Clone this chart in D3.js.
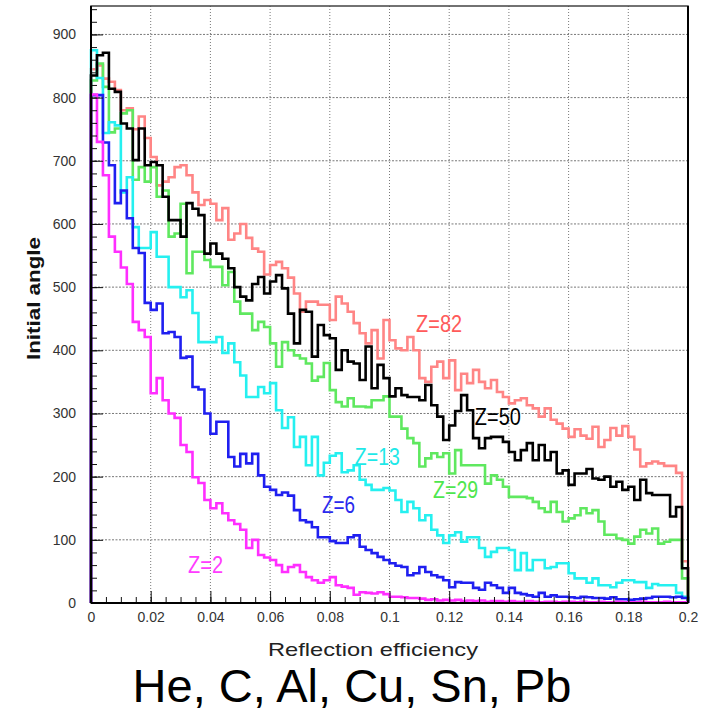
<!DOCTYPE html>
<html>
<head>
<meta charset="utf-8">
<script src="https://cdn.jsdelivr.net/npm/d3@7/dist/d3.min.js"></script>
<style>
  body { margin: 0; background: #fff; }
  text { font-family: "Liberation Sans", Arial, sans-serif; }
</style>
</head>
<body>
<div id="chart"></div>
<script>
// histogram range: 100 bins from 0 to 0.2
const xMin = 0, xMax = 0.2, nBins = 100;

// counts per bin
const z82 = [845, 851, 830, 825, 812, 780, 783, 750, 770, 736,
             706, 661, 667, 674, 690, 693, 677, 650, 630, 638,
             632, 606, 625, 575, 585, 600, 578, 561, 556, 520,
             535, 540, 530, 515, 490, 461, 477, 477, 472, 472,
             448, 485, 474, 461, 443, 427, 411, 432, 387, 448,
             416, 403, 400, 421, 400, 356, 350, 374, 382, 356,
             384, 337, 363, 348, 369, 350, 340, 353, 334, 326,
             316, 321, 324, 313, 308, 295, 308, 290, 284, 276,
             263, 275, 265, 260, 279, 247, 258, 277, 265, 280,
             263, 243, 216, 221, 224, 221, 217, 217, 206, 66];

const z50 = [835, 867, 871, 814, 809, 759, 751, 701, 751, 693,
             698, 693, 643, 606, 606, 580, 633, 624, 614, 553,
             569, 553, 545, 530, 500, 485, 479, 505, 516, 490,
             509, 519, 498, 458, 411, 464, 461, 390, 440, 424,
             419, 369, 400, 382, 379, 353, 406, 340, 377, 356,
             327, 340, 329, 326, 326, 321, 345, 313, 295, 258,
             281, 304, 329, 305, 261, 245, 261, 263, 263, 255,
             239, 226, 242, 253, 226, 250, 226, 239, 205, 210,
             187, 205, 205, 212, 197, 195, 200, 184, 192, 179,
             184, 163, 195, 174, 171, 171, 171, 137, 152, 55];

const z29 = [827, 854, 817, 745, 751, 775, 780, 670, 690, 667,
             690, 643, 653, 580, 585, 632, 522, 556, 556, 543,
             532, 532, 503, 524, 477, 458, 458, 432, 445, 437,
             411, 374, 413, 400, 392, 387, 379, 352, 358, 380,
             337, 318, 311, 324, 311, 311, 310, 321, 321, 327,
             295, 295, 276, 261, 253, 216, 229, 237, 231, 237,
             205, 242, 218, 218, 218, 218, 189, 202, 195, 184,
             168, 168, 168, 166, 160, 150, 144, 160, 144, 129,
             134, 139, 150, 142, 147, 129, 108, 108, 102, 100,
             94, 105, 116, 110, 118, 94, 97, 100, 100, 39];

const z13 = [875, 831, 744, 761, 756, 650, 674, 595, 562, 562,
             587, 548, 548, 500, 500, 484, 495, 459, 413, 413,
             413, 421, 396, 411, 381, 360, 326, 326, 342, 332,
             348, 305, 277, 294, 247, 263, 218, 263, 202, 222,
             233, 237, 207, 210, 218, 195, 187, 179, 179, 182,
             178, 163, 144, 160, 150, 131, 139, 116, 107, 95,
             107, 112, 97, 104, 104, 87, 73, 81, 87, 87,
             84, 52, 79, 52, 68, 68, 55, 57, 63, 63,
             47, 39, 39, 32, 39, 28, 28, 25, 32, 36,
             36, 33, 33, 24, 30, 28, 28, 28, 16, 10];

const z6 = [804, 804, 729, 693, 633, 653, 609, 562, 554, 475,
            464, 474, 427, 429, 421, 388, 390, 342, 338, 300,
            268, 287, 287, 231, 216, 236, 221, 236, 202, 184,
            179, 171, 175, 170, 147, 131, 128, 120, 104, 104,
            98, 95, 95, 104, 107, 89, 84, 79, 73, 68,
            63, 59, 57, 44, 47, 57, 49, 44, 41, 36,
            25, 33, 32, 32, 24, 21, 32, 28, 24, 16,
            24, 16, 14, 12, 10, 16, 10, 12, 10, 10,
            9, 8, 10, 9, 8, 8, 7, 9, 6, 6,
            5, 6, 7, 8, 10, 10, 10, 9, 10, 8];

const z2 = [805, 730, 677, 580, 556, 531, 505, 445, 432, 421,
            332, 356, 321, 300, 293, 250, 239, 199, 190, 163,
            150, 158, 142, 131, 125, 116, 87, 100, 76, 72,
            68, 60, 49, 57, 60, 49, 41, 36, 32, 36,
            41, 28, 26, 24, 13, 17, 16, 15, 17, 14,
            10, 10, 9, 8, 8, 7, 5, 6, 4, 5,
            4, 5, 3, 4, 3, 4, 2, 3, 3, 2,
            3, 2, 2, 3, 2, 1, 2, 2, 1, 2,
            2, 1, 2, 1, 1, 2, 1, 1, 2, 1,
            1, 1, 2, 1, 1, 1, 2, 1, 1, 1];

const yTicks = [0, 100, 200, 300, 400, 500, 600, 700, 800, 900];
const xTicks = [0, 0.02, 0.04, 0.06, 0.08, 0.1, 0.12, 0.14, 0.16, 0.18, 0.2];
const xTitle = "Reflection efficiency";
const yTitle = "Initial angle";
const caption = "He, C, Al, Cu, Sn, Pb";

const W = 704, H = 712;
const margin = { top: 6, left: 91 },
      width = 597,
      height = 597;

const svg = d3.select("#chart").append("svg")
    .attr("width", W)
    .attr("height", H);

const g = svg.append("g")
    .attr("transform", `translate(${margin.left},${margin.top})`);

const x = d3.scaleLinear().domain([xMin, xMax]).range([0, width]);
const y = d3.scaleLinear().domain([0, 945]).range([height, 0]);

// grid
g.append("g").selectAll("line")
    .data(yTicks.slice(1))
  .enter().append("line")
    .attr("x1", 0).attr("x2", width)
    .attr("y1", d => y(d)).attr("y2", d => y(d))
    .attr("stroke", "#555").attr("stroke-width", 0.8)
    .attr("stroke-dasharray", "2,1.5");

g.append("g").selectAll("line")
    .data(xTicks.slice(1, -1))
  .enter().append("line")
    .attr("x1", d => x(d)).attr("x2", d => x(d))
    .attr("y1", 0).attr("y2", height)
    .attr("stroke", "#555").attr("stroke-width", 0.8)
    .attr("stroke-dasharray", "1,2");

// step histograms
const binW = (xMax - xMin) / nBins;
const stepLine = d3.line()
    .x(d => x(d[0]))
    .y(d => y(d[1]))
    .curve(d3.curveStepAfter);

function histPoints(vals) {
  const pts = [[xMin, 0]];
  vals.forEach((v, i) => pts.push([xMin + i * binW, v]));
  pts.push([xMax, vals[vals.length - 1]]);
  pts.push([xMax, 0]);
  return pts;
}

const series = [
  { label: "Z=82", vals: z82, color: "#ff8585", text: "#ff5a5a", at: [0.1089, 429], w: 46 },
  { label: "Z=29", vals: z29, color: "#5fe85f", text: "#4ee64e", at: [0.1146, 166], w: 45 },
  { label: "Z=13", vals: z13, color: "#25f0f0", text: "#1ee8e8", at: [0.0884, 218], w: 45 },
  { label: "Z=6", vals: z6, color: "#1f1ff0", text: "#2a2aee", at: [0.0774, 142], w: 33 },
  { label: "Z=50", vals: z50, color: "#000000", text: "#000000", at: [0.1286, 282], w: 46 },
  { label: "Z=2", vals: z2, color: "#ff2eff", text: "#ff3cff", at: [0.0325, 47], w: 35 }
];

g.selectAll(".hist")
    .data(series)
  .enter().append("path")
    .attr("class", "hist")
    .attr("d", d => stepLine(histPoints(d.vals)))
    .attr("fill", "none")
    .attr("stroke", d => d.color)
    .attr("stroke-width", 2.6)
    .attr("stroke-linejoin", "miter");

g.selectAll(".zlabel")
    .data(series)
  .enter().append("text")
    .attr("class", "zlabel")
    .attr("x", d => x(d.at[0]))
    .attr("y", d => y(d.at[1]))
    .attr("font-size", 23)
    .attr("textLength", d => d.w)
    .attr("lengthAdjust", "spacingAndGlyphs")
    .attr("fill", d => d.text)
    .text(d => d.label);

// axes: ticks point inward like the original
const yAxis = d3.axisLeft(y).tickValues(yTicks).tickSize(-12).tickPadding(15);
const yMinor = d3.axisLeft(y).tickValues(d3.range(0, 941, 20)).tickSize(-6).tickFormat("");
const xAxis = d3.axisBottom(x).tickValues(xTicks).tickSize(-12).tickPadding(9)
    .tickFormat(d => String(+d.toFixed(2)));
const xMinor = d3.axisBottom(x).tickValues(d3.range(0, 41).map(i => i * 0.005)).tickSize(-6).tickFormat("");

const yg = g.append("g").call(yMinor);
g.append("g").call(yAxis);
const xg = g.append("g").attr("transform", `translate(0,${height})`).call(xMinor);
g.append("g").attr("transform", `translate(0,${height})`).call(xAxis);

g.selectAll(".domain").remove();
g.selectAll(".tick line").attr("stroke", "#111").attr("stroke-width", 1);
g.selectAll(".tick text")
    .attr("font-size", 14)
    .attr("fill", "#333")
    .style("font-family", "'Liberation Sans', Arial, sans-serif");

// frame
g.append("rect")
    .attr("width", width).attr("height", height)
    .attr("fill", "none")
    .attr("stroke", "#444").attr("stroke-width", 1.5);
g.append("line").attr("x1", 0).attr("x2", 0).attr("y1", 0).attr("y2", height)
    .attr("stroke", "#000").attr("stroke-width", 2);
g.append("line").attr("x1", 0).attr("x2", width).attr("y1", height).attr("y2", height)
    .attr("stroke", "#000").attr("stroke-width", 2);
g.append("line").attr("x1", width).attr("x2", width).attr("y1", 0).attr("y2", height)
    .attr("stroke", "#000").attr("stroke-width", 2);

// titles
svg.append("text")
    .attr("x", 268).attr("y", 656)
    .attr("font-size", 19)
    .attr("fill", "#222")
    .attr("textLength", 210)
    .attr("lengthAdjust", "spacingAndGlyphs")
    .text(xTitle);

svg.append("text")
    .attr("transform", "translate(40,360) rotate(-90)")
    .attr("font-size", 18)
    .attr("font-weight", "bold")
    .attr("fill", "#111")
    .attr("textLength", 123)
    .attr("lengthAdjust", "spacingAndGlyphs")
    .text(yTitle);

svg.append("text")
    .attr("x", 352).attr("y", 702)
    .attr("text-anchor", "middle")
    .attr("font-size", 47)
    .attr("fill", "#000")
    .text(caption);
</script>
</body>
</html>
